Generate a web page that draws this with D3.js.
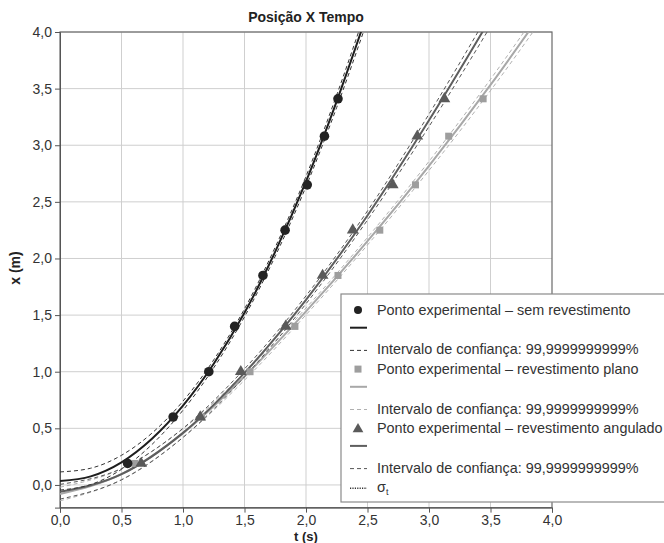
<!DOCTYPE html>
<html>
<head>
<meta charset="utf-8">
<script src="https://cdn.jsdelivr.net/npm/d3@7"></script>
<style>
  body { margin: 0; background: #fff; }
  text { font-family: "Liberation Sans", Arial, sans-serif; }
</style>
</head>
<body>
<div class="chart"></div>
<script>
// Chart dimensions
var svgWidth = 664;
var svgHeight = 543;
var plot = { left: 60, right: 552, top: 32, bottom: 507.6 };

// Experimental points (positions shared by the three series)
var posicoes = [0.19, 0.60, 1.00, 1.40, 1.85, 2.25, 2.65, 3.08, 3.41];
var semTempos = [0.55, 0.92, 1.21, 1.42, 1.65, 1.83, 2.01, 2.15, 2.26];
var planoTempos = [0.61, 1.15, 1.545, 1.91, 2.26, 2.60, 2.89, 3.16, 3.44];
var anguladoTempos = [0.66, 1.14, 1.47, 1.835, 2.135, 2.38, 2.705, 2.905, 3.125];

// Fitted curves and confidence half-widths
var semCurvaT = [0, 0.25, 0.5, 0.75, 1.0, 1.25, 1.5, 1.75, 2.0, 2.25, 2.5];
var semCurvaX = [0.035, 0.076, 0.20, 0.41, 0.70, 1.07, 1.52, 2.06, 2.68, 3.39, 4.17];
var semIntervalo = [0.08, 0.072, 0.062, 0.05, 0.04, 0.035, 0.035, 0.04, 0.045, 0.055, 0.065];

var planoCurvaT = [0, 0.5, 1.0, 1.5, 2.0, 2.5, 3.0, 3.5, 4.0];
var planoCurvaX = [-0.08, 0.095, 0.4575, 0.9575, 1.5325, 2.1525, 2.8175, 3.5325, 4.2975];
var planoIntervalo = [0.06, 0.048, 0.038, 0.032, 0.03, 0.033, 0.04, 0.05, 0.06];

var anguladoCurvaT = [0, 0.5, 1.0, 1.5, 2.0, 2.5, 3.0, 3.5];
var anguladoCurvaX = [-0.06, 0.095, 0.46, 0.99, 1.635, 2.38, 3.22, 4.12];
var anguladoIntervalo = [0.065, 0.05, 0.04, 0.035, 0.035, 0.04, 0.055, 0.07];

// Tick values
var xTicks = [0, 0.5, 1.0, 1.5, 2.0, 2.5, 3.0, 3.5, 4.0];
var yTicks = [0, 0.5, 1.0, 1.5, 2.0, 2.5, 3.0, 3.5, 4.0];

var legendaTextos = [
  "Ponto experimental – sem revestimento", "",
  "Intervalo de confiança: 99,9999999999%",
  "Ponto experimental – revestimento plano", "",
  "Intervalo de confiança: 99,9999999999%",
  "Ponto experimental – revestimento angulado", "",
  "Intervalo de confiança: 99,9999999999%",
  "σ"
];

var ptBR = d3.formatLocale({ decimal: ",", thousands: ".", grouping: [3], currency: ["R$", ""] });
var fmt = ptBR.format(".1f");

var svg = d3.select(".chart")
  .append("svg")
  .attr("width", svgWidth)
  .attr("height", svgHeight);

var xScale = d3.scaleLinear().domain([0, 4]).range([plot.left, plot.right]);
var yScale = d3.scaleLinear().domain([-0.2, 4]).range([plot.bottom, plot.top]);

svg.append("clipPath").attr("id", "clip")
  .append("rect")
  .attr("x", plot.left).attr("y", plot.top)
  .attr("width", plot.right - plot.left).attr("height", plot.bottom - plot.top);

// Grid
svg.append("g").selectAll("line").data(xTicks.slice(1, -1)).enter().append("line")
  .attr("x1", d => xScale(d)).attr("x2", d => xScale(d))
  .attr("y1", plot.top).attr("y2", plot.bottom)
  .attr("stroke", "#cfcfcf").attr("stroke-width", 1);
svg.append("g").selectAll("line").data(yTicks).enter().append("line")
  .attr("x1", plot.left).attr("x2", plot.right)
  .attr("y1", d => yScale(d)).attr("y2", d => yScale(d))
  .attr("stroke", "#cfcfcf").attr("stroke-width", 1);

// Frame
svg.append("rect")
  .attr("x", plot.left).attr("y", plot.top)
  .attr("width", plot.right - plot.left).attr("height", plot.bottom - plot.top)
  .attr("fill", "none").attr("stroke", "#6a6a6a").attr("stroke-width", 1.2);

// Axes
var xAxis = d3.axisBottom(xScale).tickValues(xTicks).tickFormat(fmt).tickSize(5).tickPadding(2);
var yAxis = d3.axisLeft(yScale).tickValues(yTicks).tickFormat(fmt).tickSize(5).tickPadding(3);

svg.append("g").attr("transform", `translate(0, ${plot.bottom})`).call(xAxis);
svg.append("g").attr("transform", `translate(${plot.left}, 0)`).call(yAxis);
svg.selectAll(".tick text").attr("font-size", "14px").attr("fill", "#333")
  .attr("font-family", "'Liberation Sans', Arial, sans-serif");
svg.selectAll(".domain, .tick line").attr("stroke", "#555");

// Curves
var curves = svg.append("g").attr("clip-path", "url(#clip)");
var line = d3.line().x(d => xScale(d[0])).y(d => yScale(d[1])).curve(d3.curveMonotoneX);

function drawSeries(ts, xs, hw, cor, corTraco, dash) {
  var mid = ts.map((t, i) => [t, xs[i]]);
  var up = ts.map((t, i) => [t, xs[i] + hw[i]]);
  var lo = ts.map((t, i) => [t, xs[i] - hw[i]]);
  [up, lo].forEach(p => {
    curves.append("path").attr("d", line(p)).attr("fill", "none")
      .attr("stroke", corTraco).attr("stroke-width", 1).attr("stroke-dasharray", dash);
  });
  curves.append("path").attr("d", line(mid)).attr("fill", "none")
    .attr("stroke", cor).attr("stroke-width", 2);
}

drawSeries(planoCurvaT, planoCurvaX, planoIntervalo, "#a8a8a8", "#b0b0b0", "4,3");
drawSeries(anguladoCurvaT, anguladoCurvaX, anguladoIntervalo, "#5e5e5e", "#555", "4,3");
drawSeries(semCurvaT, semCurvaX, semIntervalo, "#1e1e1e", "#333", "4,3");

// Points
svg.append("g").selectAll("rect").data(planoTempos).enter().append("rect")
  .attr("x", (d, i) => xScale(d) - 3.5).attr("y", (d, i) => yScale(posicoes[i]) - 3.5)
  .attr("width", 7).attr("height", 7).attr("fill", "#9e9e9e");

svg.append("g").selectAll("path").data(anguladoTempos).enter().append("path")
  .attr("d", d3.symbol().type(d3.symbolTriangle).size(60))
  .attr("transform", (d, i) => `translate(${xScale(d)}, ${yScale(posicoes[i])})`)
  .attr("fill", "#5a5a5a");

svg.append("g").selectAll("circle").data(semTempos).enter().append("circle")
  .attr("cx", d => xScale(d)).attr("cy", (d, i) => yScale(posicoes[i]))
  .attr("r", 4.8).attr("fill", "#222");

// Titles
svg.append("text").attr("x", 306).attr("y", 22).attr("text-anchor", "middle")
  .attr("font-size", "14px").attr("font-weight", "bold").attr("fill", "#222")
  .text("Posição X Tempo");

svg.append("text").attr("x", 306).attr("y", 541).attr("text-anchor", "middle")
  .attr("font-size", "13px").attr("font-weight", "bold").attr("fill", "#222")
  .text("t (s)");

svg.append("text").attr("transform", "translate(20, 268) rotate(-90)")
  .attr("text-anchor", "middle")
  .attr("font-size", "14px").attr("font-weight", "bold").attr("fill", "#222")
  .text("x (m)");

// Legend
var leg = svg.append("g");
leg.append("rect").attr("x", 341).attr("y", 294).attr("width", 400).attr("height", 208)
  .attr("fill", "#fff").attr("stroke", "#8a8a8a").attr("stroke-width", 1.2);

var rowY = i => 310 + i * 19.7;
var symX = 358;

legendaTextos.forEach((txt, i) => {
  if (!txt) return;
  var t = leg.append("text").attr("x", 377).attr("y", rowY(i) + 5)
    .attr("font-size", "14.4px").attr("fill", "#333").text(txt);
  if (txt === "σ") {
    t.append("tspan").attr("font-size", "9px").attr("dy", 3).text("t");
  }
});

leg.append("circle").attr("cx", symX).attr("cy", rowY(0)).attr("r", 4).attr("fill", "#222");
leg.append("rect").attr("x", symX - 3.5).attr("y", rowY(3) - 3.5).attr("width", 7).attr("height", 7).attr("fill", "#9e9e9e");
leg.append("path").attr("d", d3.symbol().type(d3.symbolTriangle).size(50))
  .attr("transform", `translate(${symX}, ${rowY(6) + 1})`).attr("fill", "#5a5a5a");

var legLines = [
  { row: 1, cor: "#1e1e1e", w: 2, dash: null },
  { row: 2, cor: "#333", w: 1, dash: "4,3" },
  { row: 4, cor: "#a8a8a8", w: 2, dash: null },
  { row: 5, cor: "#b0b0b0", w: 1, dash: "4,3" },
  { row: 7, cor: "#5e5e5e", w: 2, dash: null },
  { row: 8, cor: "#555", w: 1, dash: "4,3" },
  { row: 9, cor: "#333", w: 1.5, dash: "1.2,1.2" }
];
legLines.forEach(l => {
  var yy = (l.w === 2) ? rowY(l.row) - 2 : rowY(l.row) + 1;
  leg.append("line").attr("x1", 350).attr("x2", 367).attr("y1", yy).attr("y2", yy)
    .attr("stroke", l.cor).attr("stroke-width", l.w).attr("stroke-dasharray", l.dash);
});
</script>
</body>
</html>
